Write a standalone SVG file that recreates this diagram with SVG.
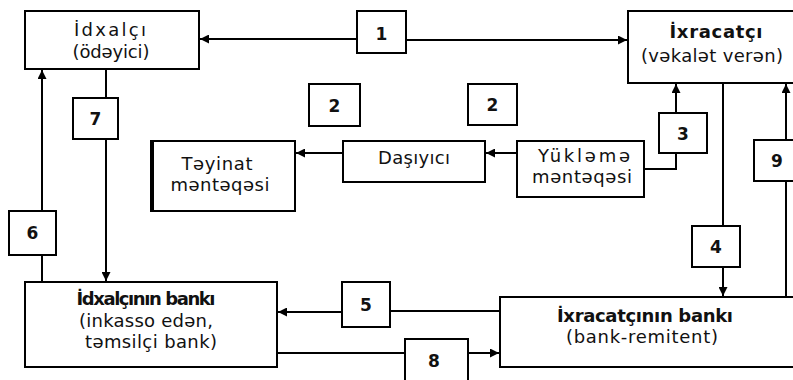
<svg xmlns="http://www.w3.org/2000/svg" width="793" height="380" viewBox="0 0 793 380">
<style>
.box{fill:#fff;stroke:#000;stroke-width:2}
.c{fill:none;stroke:#000;stroke-width:2}
.t{font-family:"DejaVu Sans",Verdana,sans-serif;font-size:18px;fill:#111;text-anchor:middle}
.b{font-weight:bold}
.n{font-family:"DejaVu Sans",Verdana,sans-serif;font-size:17px;font-weight:bold;fill:#111;text-anchor:middle}
</style>
<defs>
<marker id="ah" viewBox="0 0 10 10" refX="10" refY="5" markerWidth="9" markerHeight="9" markerUnits="userSpaceOnUse" orient="auto">
<path d="M0,0 L10,5 L0,10 z" fill="#000"/>
</marker>
</defs>
<rect width="793" height="380" fill="#fff"/>
<g id="connectors">
<line class="c" x1="357" y1="39" x2="200" y2="39" marker-end="url(#ah)"/>
<line class="c" x1="406" y1="40" x2="627" y2="40" marker-end="url(#ah)"/>
<line class="c" x1="106" y1="69" x2="106" y2="98"/>
<line class="c" x1="106" y1="139" x2="106" y2="281" marker-end="url(#ah)"/>
<line class="c" x1="42" y1="211" x2="42" y2="70" marker-end="url(#ah)"/>
<line class="c" x1="42" y1="255" x2="42" y2="282"/>
<line class="c" x1="343" y1="153" x2="296" y2="153" marker-end="url(#ah)"/>
<line class="c" x1="517" y1="153" x2="486" y2="153" marker-end="url(#ah)"/>
<polyline class="c" points="644,169 676,169 676,153"/>
<line class="c" x1="676" y1="113" x2="676" y2="84" marker-end="url(#ah)"/>
<line class="c" x1="723" y1="83" x2="723" y2="226"/>
<line class="c" x1="723" y1="267" x2="723" y2="296" marker-end="url(#ah)"/>
<line class="c" x1="786" y1="297" x2="786" y2="181"/>
<line class="c" x1="786" y1="140" x2="786" y2="84" marker-end="url(#ah)"/>
<line class="c" x1="342" y1="312" x2="278" y2="312" marker-end="url(#ah)"/>
<line class="c" x1="500" y1="311" x2="390" y2="311"/>
<line class="c" x1="277" y1="353" x2="405" y2="353"/>
<line class="c" x1="468" y1="353" x2="499" y2="353" marker-end="url(#ah)"/>
</g>
<g id="idxalci">
<rect class="box" x="25" y="11" width="174" height="58"/>
<text class="t" x="110" y="36" textLength="72">İdxalçı</text>
<text class="t" x="111" y="58" textLength="77">(ödəyici)</text>
</g>
<g id="ixracatci">
<rect class="box" x="628" y="11" width="170" height="72"/>
<text class="t b" x="716" y="38" textLength="93">İxracatçı</text>
<text class="t" x="712" y="62" textLength="142">(vəkalət verən)</text>
</g>
<g id="teyinat">
<rect class="box" x="151" y="141" width="144" height="70"/>
<line x1="152" y1="141" x2="152" y2="211" stroke="#000" stroke-width="4"/>
<text class="t" x="217" y="170" textLength="71">Təyinat</text>
<text class="t" x="220" y="191" textLength="99">məntəqəsi</text>
</g>
<g id="dasiyici">
<rect class="box" x="343" y="141" width="142" height="41"/>
<text class="t" x="414" y="164" textLength="72">Daşıyıcı</text>
</g>
<g id="yukleme">
<rect class="box" x="517" y="141" width="127" height="56"/>
<text class="t" x="584" y="162" textLength="92">Yükləmə</text>
<text class="t" x="582" y="183" textLength="100">məntəqəsi</text>
</g>
<g id="idxalci-bank">
<rect class="box" x="25" y="282" width="252" height="85"/>
<text class="t b" x="146" y="305" textLength="139">İdxalçının bankı</text>
<text class="t" x="146" y="327" textLength="134">(inkasso edən,</text>
<text class="t" x="151" y="348" textLength="132">təmsilçi bank)</text>
</g>
<g id="ixracatci-bank">
<rect class="box" x="500" y="297" width="298" height="70"/>
<text class="t b" x="645" y="322" font-size="17" textLength="176">İxracatçının bankı</text>
<text class="t" x="642" y="343" textLength="152">(bank-remitent)</text>
</g>
<g id="n1"><rect class="box" x="357" y="11" width="49" height="42"/><text class="n" x="381.5" y="40">1</text></g>
<g id="n2a"><rect class="box" x="309" y="84" width="51" height="42"/><text class="n" x="334.5" y="112">2</text></g>
<g id="n2b"><rect class="box" x="468" y="84" width="49" height="41"/><text class="n" x="492.5" y="111">2</text></g>
<g id="n3"><rect class="box" x="659" y="113" width="48" height="40"/><text class="n" x="683" y="140">3</text></g>
<g id="n4"><rect class="box" x="692" y="226" width="48" height="41"/><text class="n" x="716" y="253">4</text></g>
<g id="n5"><rect class="box" x="342" y="282" width="48" height="45"/><text class="n" x="366" y="311">5</text></g>
<g id="n6"><rect class="box" x="9" y="211" width="47" height="44"/><text class="n" x="32.5" y="239">6</text></g>
<g id="n7"><rect class="box" x="73" y="98" width="45" height="41"/><text class="n" x="95.5" y="125">7</text></g>
<g id="n8"><rect class="box" x="405" y="339" width="63" height="50"/><text class="n" x="434" y="367">8</text></g>
<g id="n9"><rect class="box" x="754" y="140" width="46" height="41"/><text class="n" x="777" y="167">9</text></g>
</svg>
